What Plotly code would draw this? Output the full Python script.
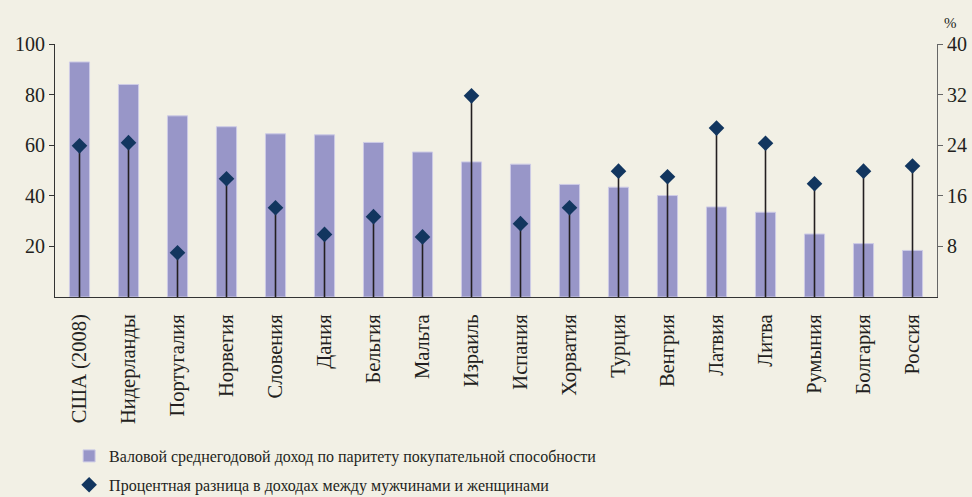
import plotly.graph_objects as go

countries = ["США (2008)", "Нидерланды", "Португалия", "Норвегия", "Словения", "Дания",
             "Бельгия", "Мальта", "Израиль", "Испания", "Хорватия", "Турция", "Венгрия",
             "Латвия", "Литва", "Румыния", "Болгария", "Россия"]
income_ppp = [92.9, 84.0, 71.6, 67.3, 64.5, 64.1, 61.1, 57.3, 53.4, 52.5, 44.5, 43.4,
              40.1, 35.6, 33.5, 24.9, 21.1, 18.4]
pay_gap_pct = [23.9, 24.4, 7.0, 18.7, 14.1, 9.9, 12.7, 9.5, 31.8, 11.6, 14.1, 19.9,
               19.0, 26.7, 24.3, 17.9, 19.9, 20.7]
left_ticks = [20, 40, 60, 80, 100]
right_ticks = [8, 16, 24, 32, 40]

BG = "#F2F0E5"
TEXT = "#231F20"
FONT = "Liberation Serif"

fig = go.Figure()

fig.add_trace(go.Bar(
    x=countries, y=income_ppp, legendgroup="income",
    name="Валовой среднегодовой доход по паритету покупательной способности",
    marker=dict(color="#9896C8", line=dict(color="#CDCBE6", width=1)),
    width=0.41,
))

fig.add_trace(go.Scatter(
    x=countries, y=pay_gap_pct, yaxis="y2", mode="markers", legendgroup="gap",
    name="Процентная разница в доходах между мужчинами и женщинами",
    marker=dict(symbol="diamond", size=12, color="#12365F"),
    error_y=dict(type="data", symmetric=False, array=[0] * len(pay_gap_pct),
                 arrayminus=pay_gap_pct, width=0, thickness=1.6, color="#231F20"),
))

fig.update_layout(
    width=972, height=497,
    margin=dict(l=55, r=35, t=44, b=200),
    paper_bgcolor=BG, plot_bgcolor=BG,
    font=dict(family=FONT, size=17, color=TEXT),
    showlegend=True,
    legend=dict(x=0.016, xanchor="left", xref="paper",
                y=1 - 439 / 497, yanchor="top", yref="container",
                bgcolor="rgba(0,0,0,0)", font=dict(family=FONT, size=16, color=TEXT),
                itemwidth=30, tracegroupgap=5),
    bargap=0.59,
    xaxis=dict(
        range=[-0.5, len(countries) - 0.5], automargin=False,
        tickangle=-90, showline=True, linecolor="#333", linewidth=1.2,
        ticks="", showgrid=False, zeroline=False, ticklabelstandoff=8,
        tickfont=dict(family=FONT, size=20.5, color=TEXT),
    ),
    yaxis=dict(
        range=[0, 100], tickvals=left_ticks, showline=True, linecolor="#333",
        linewidth=1.2, ticks="outside", ticklen=5, tickcolor="#333", automargin=False,
        showgrid=False, zeroline=False, tickfont=dict(family=FONT, size=20, color=TEXT),
    ),
    yaxis2=dict(
        range=[0, 40], tickvals=right_ticks, overlaying="y", side="right",
        showline=True, linecolor="#666", linewidth=1.2, ticks="outside", automargin=False,
        ticklen=5, tickcolor="#666", showgrid=False, zeroline=False,
        tickfont=dict(family=FONT, size=20, color=TEXT),
    ),
    annotations=[dict(text="%", xref="paper", yref="paper", x=1.0, y=1.0,
                      xanchor="left", yanchor="bottom", xshift=5, yshift=11,
                      showarrow=False, font=dict(family=FONT, size=15, color=TEXT))],
)

fig.write_html("out.html")
